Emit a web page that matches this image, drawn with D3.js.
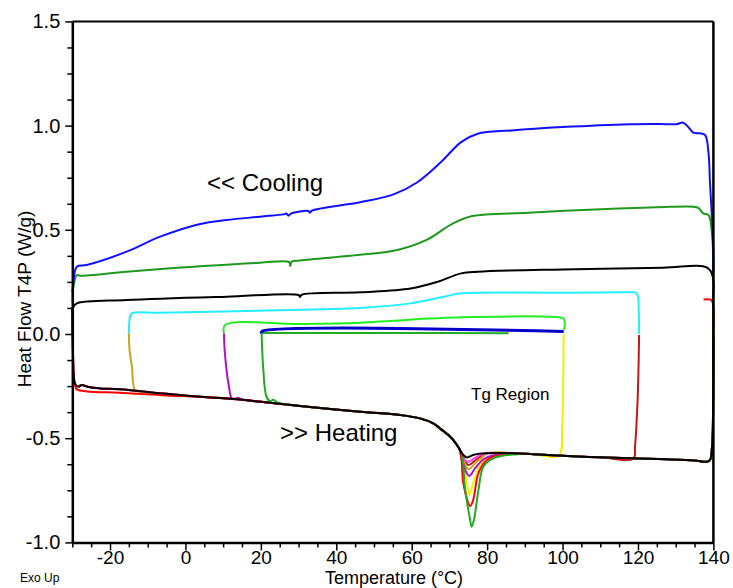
<!DOCTYPE html>
<html><head><meta charset="utf-8">
<script src="https://cdn.jsdelivr.net/npm/d3@7"></script>
<style>body{margin:0;background:#fff}text{font-family:"Liberation Sans",Arial,sans-serif}</style>
</head><body><svg id="c" width="733" height="588"></svg>
<script>
// ---------- data (temperature °C, heat flow W/g) ----------
const xTicks = [-20, 0, 20, 40, 60, 80, 100, 120, 140];
const yTicks = [1.5, 1.0, 0.5, 0.0, -0.5, -1.0];

// cooling scans
const coolBlue = [[140,0.30],[140,0.40],[139.6,0.563],[139.1,0.724],[138.7,0.869],[137.8,0.955],[136.4,0.963],[134.7,0.966],[133.5,0.99],[132,1.014],[130.2,1.007],[125.8,1.008],[117.7,1.007],[99.9,0.993],[86.5,0.977],[77.5,0.961],[73.1,0.921],[67.7,0.824],[61.4,0.727],[55.2,0.670],[46.3,0.632],[33.5,0.592],[33,0.582],[32.6,0.590],[28,0.578],[27.3,0.568],[26.8,0.578],[26,0.574],[19.8,0.563],[10.9,0.547],[3.9,0.528],[-6.7,0.467],[-15.6,0.395],[-26.2,0.331],[-28.8,0.323],[-29.7,0.251],[-30,0.2]];
const coolGreen = [[140,0.25],[140,0.323],[139.6,0.483],[138.7,0.571],[137.3,0.579],[136,0.605],[134.7,0.611],[125,0.608],[108.8,0.598],[90.9,0.582],[75.8,0.565],[70.4,0.525],[64.1,0.453],[55.2,0.399],[46.3,0.38],[30,0.352],[28.2,0.348],[27.8,0.326],[27.5,0.345],[19.8,0.342],[2.1,0.323],[-15.6,0.299],[-28,0.280],[-28.8,0.283],[-29.7,0.227],[-30,0.15]];
const coolBlack = [[140,0.2],[140,0.26],[139.1,0.307],[137.3,0.325],[126.6,0.318],[99.9,0.31],[77.5,0.299],[73.1,0.291],[66.8,0.25],[59.7,0.218],[46.3,0.20],[30.8,0.188],[30.4,0.178],[30,0.187],[10.9,0.179],[-15.6,0.163],[-28.8,0.147],[-29.7,0.131],[-30,0.1]];
const coolCyan = [[120.3,0.0],[120.2,0.12],[120.0,0.18],[119.5,0.198],[118.5,0.200],[99.9,0.198],[73.1,0.195],[68.6,0.179],[59.7,0.147],[46.3,0.125],[19.8,0.112],[-6.7,0.102],[-14.2,0.099],[-14.7,0.083],[-15.0,0.003]];
const coolLime = [[100.4,0.02],[100.6,0.055],[100.2,0.075],[99,0.080],[73.1,0.080],[55.2,0.064],[46.3,0.054],[30.4,0.048],[10.5,0.043],[10.2,0.003]];
const coolNavy = [[100.3,0.012],[20.3,0.012],[20.2,0.002]];
const coolGreen2 = [[85.7,0.004],[60,0.005],[20.5,0.005]];

// heating scans: shared baseline
const heatBasePre = [[-28.4,-0.253],[-27.5,-0.245],[-26.6,-0.249],[-25.3,-0.256],[-22.7,-0.261],[-17.4,-0.265],[-5,-0.287],[3.9,-0.301],[15,-0.315],[20,-0.325],[30.4,-0.345],[46.3,-0.373],[56.9,-0.389],[62.2,-0.405],[65.7,-0.429],[67.5,-0.453],[70.2,-0.493],[71.5,-0.52],[72.6,-0.55]];
const heatBasePost = [[80,-0.572],[88.7,-0.573],[92.3,-0.577],[100,-0.584],[109.9,-0.592],[120,-0.597],[127.6,-0.601],[135,-0.607],[138.2,-0.613],[139.1,-0.605],[139.6,-0.55],[139.8,-0.477]];

// Tg region dips
const dipBlack  = [[73.3,-0.572],[74.6,-0.592],[76.3,-0.581],[78,-0.574]];
const dipPink   = [[73.3,-0.58],[74.8,-0.613],[76.5,-0.598],[78.5,-0.578]];
const dipBrown  = [[73.5,-0.585],[75,-0.629],[76.8,-0.607],[79,-0.58]];
const dipOlive  = [[73.5,-0.59],[75,-0.649],[77,-0.617],[79.3,-0.582]];
const dipPurple = [[73.3,-0.60],[74.6,-0.668],[75.3,-0.681],[76.8,-0.645],[79,-0.601],[81,-0.585]];
const dipYellow = [[73.5,-0.62],[74.5,-0.70],[75.3,-0.773],[76.3,-0.717],[78.1,-0.629],[80.3,-0.592],[83,-0.578]];
const dipRed    = [[73.2,-0.60],[73.7,-0.717],[75.5,-0.825],[76.3,-0.797],[77.7,-0.668],[79.9,-0.605],[82.5,-0.585],[85,-0.578]];
const dipGreen  = [[73.3,-0.572],[74.1,-0.733],[75.5,-0.893],[75.9,-0.925],[76.5,-0.893],[77.7,-0.749],[79,-0.637],[81.6,-0.597],[85.2,-0.581],[88,-0.577]];

// heating start / end segments
const startBlack  = [[-30,0.13],[-29.9,0.0],[-29.8,-0.1],[-29.7,-0.173],[-29.3,-0.237]];
const startRed    = [[-30,0.1],[-29.8,-0.1],[-29.5,-0.22],[-29,-0.262],[-28.4,-0.269],[-25.3,-0.277],[-17.4,-0.282],[-5,-0.295]];
const startPink   = [[-30,0.05],[-29.85,-0.1],[-29.6,-0.2],[-29.2,-0.245]];
const startOther  = [[-28.5,-0.256]];
const startOlive  = [[-15.0,0.003],[-14.8,-0.08],[-14.2,-0.157],[-13.4,-0.269],[-12,-0.279],[-5,-0.292]];
const startMagenta= [[10.2,0.003],[10.5,-0.1],[11.4,-0.237],[12.3,-0.309],[13.2,-0.313],[13.8,-0.306],[14.5,-0.31],[16,-0.318]];
const startGreen  = [[20.2,0.002],[20.6,-0.157],[21.5,-0.301],[22.5,-0.322],[23.3,-0.316],[24.5,-0.33]];
const endBlack  = [[140,-0.2],[140,0.2]];
const endRed    = [[140,-0.2],[140,0.0],[139.9,0.146],[139.3,0.165],[137.4,0.166]];
const endGreen  = [[140,-0.3],[140,0.0]];
const endYellow = [[99,-0.583],[99.9,-0.45],[100.2,-0.2],[100.3,0.0]];
const endDarkRed= [[118.8,-0.597],[119.2,-0.541],[119.9,-0.317],[120.3,-0.005]];

// ---------- drawing ----------
const svg = d3.select("#c");
const x = d3.scaleLinear().domain([-30, 140]).range([72.3, 713.4]);
const y = d3.scaleLinear().domain([-1.0, 1.5]).range([542.4, 21.4]);

function heating(start, dip, end) {
  const s = start[start.length - 1][0];
  const d0 = dip[0][0], d1 = dip[dip.length - 1][0];
  const e = end.length ? end[0][0] : Infinity;
  return start.concat(heatBasePre.filter(p => p[0] > s && p[0] < d0), dip,
                      heatBasePost.filter(p => p[0] > d1 && p[0] < e), end);
}

const series = [
  {c:"#22aa22", w:2,   d:coolGreen2},
  {c:"#0000c8", w:3,   d:coolNavy},
  {c:"#22ee22", w:2,   d:coolLime},
  {c:"#22eeff", w:2,   d:coolCyan},
  {c:"#000000", w:2,   d:coolBlack},
  {c:"#1f981f", w:2,   d:coolGreen},
  {c:"#1010ff", w:2,   d:coolBlue},
  {c:"#f2f000", w:2,   d:heating(startOther, dipYellow, endYellow)},
  {c:"#c01818", w:2,   d:heating(startOther, dipBrown, endDarkRed)},
  {c:"#c8a41a", w:2,   d:heating(startOlive, dipOlive, [])},
  {c:"#b010c8", w:2,   d:heating(startMagenta, dipPurple, [])},
  {c:"#ff40e0", w:2,   d:heating(startPink, dipPink, [])},
  {c:"#ff0000", w:2,   d:heating(startRed, dipRed, endRed)},
  {c:"#22aa22", w:2,   d:heating(startGreen, dipGreen, endGreen)},
  {c:"#000000", w:2,   d:heating(startBlack, dipBlack, endBlack)}
];

const line = d3.line().x(p => x(p[0])).y(p => y(p[1])).curve(d3.curveCatmullRom.alpha(0.5));

const g = svg.append("g");
series.forEach(s => {
  g.append("path").attr("d", line(s.d)).attr("fill", "none")
    .attr("stroke", s.c).attr("stroke-width", s.w).attr("stroke-linejoin", "round");
});

// frame
svg.append("line").attr("x1", x(-30)).attr("x2", x(140)).attr("y1", y(1.5)).attr("y2", y(1.5)).attr("stroke", "#000").attr("stroke-width", 2);
svg.append("line").attr("x1", x(140)).attr("x2", x(140)).attr("y1", y(1.5)).attr("y2", y(-1.0)).attr("stroke", "#000").attr("stroke-width", 2.5);

// minor ticks
const xMinor = d3.range(-30, 141, 5).filter(v => !xTicks.includes(v));
const yMinor = d3.range(-1.0, 1.5001, 0.125).filter(v => !yTicks.some(t => Math.abs(t - v) < 1e-6));
svg.append("g").attr("transform", `translate(0,${y(-1.0)})`)
  .call(d3.axisBottom(x).tickValues(xMinor).tickSize(5).tickSizeOuter(0).tickFormat(""))
  .call(a => a.select(".domain").remove())
  .selectAll("line").attr("stroke-width", 1.5);
svg.append("g").attr("transform", `translate(${x(-30)},0)`)
  .call(d3.axisLeft(y).tickValues(yMinor).tickSize(5).tickSizeOuter(0).tickFormat(""))
  .call(a => a.select(".domain").remove())
  .selectAll("line").attr("stroke-width", 1.5);

// major axes
const xa = svg.append("g").attr("transform", `translate(0,${y(-1.0)})`)
  .call(d3.axisBottom(x).tickValues(xTicks).tickSize(8).tickSizeOuter(0).tickPadding(0).tickFormat(d => String(d)));
const ya = svg.append("g").attr("transform", `translate(${x(-30)},0)`)
  .call(d3.axisLeft(y).tickValues(yTicks).tickSize(7).tickSizeOuter(0).tickPadding(5).tickFormat(d => d.toFixed(1)));
[xa, ya].forEach(a => {
  a.select(".domain").attr("stroke-width", 2.5);
  a.selectAll(".tick line").attr("stroke-width", 1.5);
  a.selectAll("text").attr("fill", "#000")
    .style("font-family", '"Liberation Sans", Arial, sans-serif');
});
xa.selectAll("text").attr("font-size", 19);
ya.selectAll("text").attr("font-size", 20);

// titles and annotations
svg.append("text").attr("x", 394).attr("y", 584).attr("text-anchor", "middle")
  .attr("font-size", 18).text("Temperature (°C)");
svg.append("text").attr("transform", "translate(31,299) rotate(-90)").attr("text-anchor", "middle")
  .attr("font-size", 19).text("Heat Flow T4P (W/g)");
svg.append("text").attr("x", 20).attr("y", 582).attr("font-size", 12).text("Exo Up");
svg.append("text").attr("x", 207).attr("y", 191).attr("font-size", 24).text("<< Cooling");
svg.append("text").attr("x", 280).attr("y", 441).attr("font-size", 24).text(">> Heating");
svg.append("text").attr("x", 471).attr("y", 400).attr("font-size", 17).text("Tg Region");
</script></body></html>
